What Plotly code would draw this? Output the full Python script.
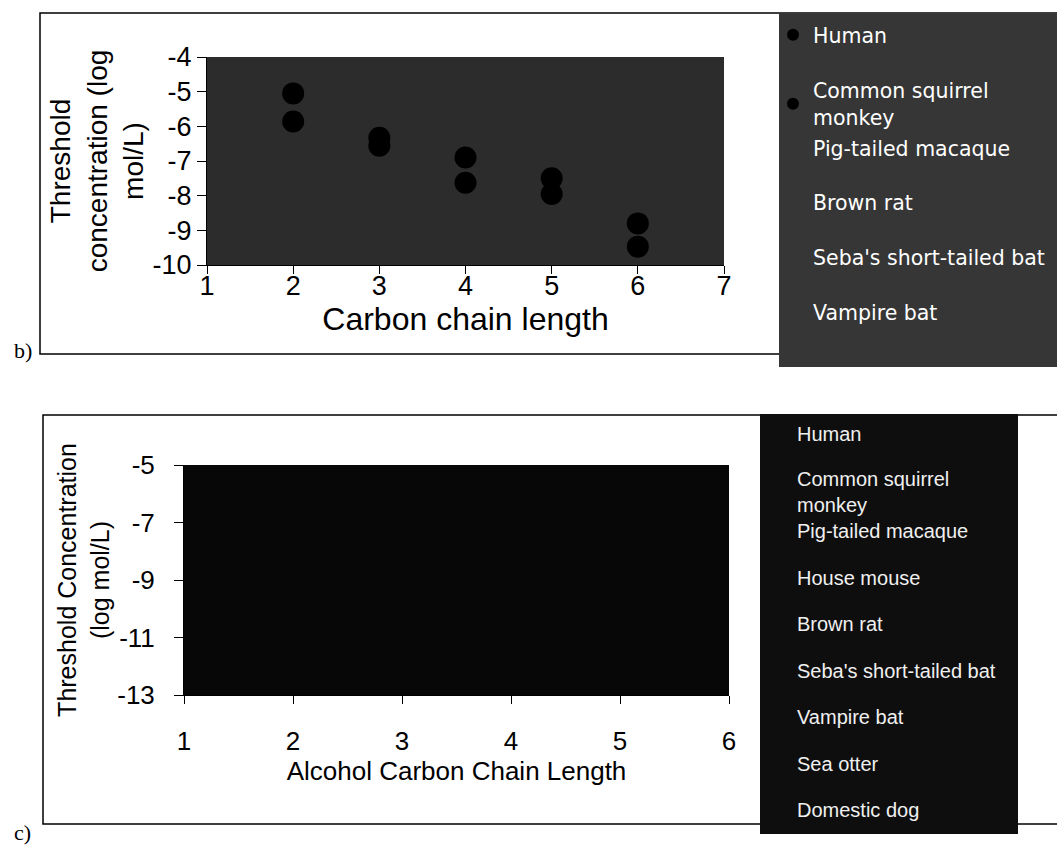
import plotly.graph_objects as go

W, H = 1057, 848
def px(x):
    return x / W
def py(y):
    return 1 - y / H

# ---------------- data ----------------
# panel b: odor threshold vs carbon chain length
species_b = ["Human", "Common squirrel<br>monkey", "Pig-tailed macaque",
             "Brown rat", "Seba's short-tailed bat", "Vampire bat"]
chain_human_b = [2, 3, 4, 5, 6]
thr_human_b = [-5.05, -6.33, -6.9, -7.5, -8.8]
chain_squirrel_b = [2, 3, 4, 5, 6]
thr_squirrel_b = [-5.86, -6.56, -7.63, -7.95, -9.47]
# species whose points are not visible in the scan: no values (None)
b_x = [chain_human_b, chain_squirrel_b, [None], [None], [None], [None]]
b_y = [thr_human_b, thr_squirrel_b, [None], [None], [None], [None]]

# panel c: alcohols (no visible points in the scan)
species_c = ["Human", "Common squirrel<br>monkey", "Pig-tailed macaque",
             "House mouse", "Brown rat", "Seba's short-tailed bat",
             "Vampire bat", "Sea otter", "Domestic dog"]
c_x = [[None] for _ in species_c]
c_y = [[None] for _ in species_c]

xticks_b = [1, 2, 3, 4, 5, 6, 7]
yticks_b = [-4, -5, -6, -7, -8, -9, -10]
xticks_c = [1, 2, 3, 4, 5, 6]
yticks_c = [-5, -7, -9, -11, -13]

# ---------------- styles ----------------
FONT = "Liberation Sans, Arial, sans-serif"
B_PLOT_BG = "#2c2c2c"
B_LEG_BG = "#363636"
C_PLOT_BG = "#070707"
C_LEG_BG = "#0e0e0e"

fig = go.Figure()

for i, name in enumerate(species_b):
    visible_marker = b_x[i][0] is not None
    fig.add_trace(go.Scatter(
        x=b_x[i], y=b_y[i], mode="markers", name=name, showlegend=True,
        marker=dict(size=22, color="#000000" if visible_marker else B_LEG_BG,
                    symbol="circle", line=dict(width=0)),
        xaxis="x", yaxis="y",
        legend="legend" if i < 2 else "legend2",
        legendgroup="b%d" % i,
    ))

for i, name in enumerate(species_c):
    fig.add_trace(go.Scatter(
        x=c_x[i], y=c_y[i], mode="markers", name=name, showlegend=True,
        marker=dict(size=12, color=C_LEG_BG),
        xaxis="x2", yaxis="y2",
        legend="legend3" if i < 2 else "legend4",
        legendgroup="c%d" % i,
    ))

axis_common = dict(showgrid=False, zeroline=False, showline=True,
                   linecolor="black", linewidth=1, ticks="outside",
                   tickcolor="black", tickwidth=1, tickmode="array")

shapes = [
    # panel b frame
    dict(type="rect", xref="paper", yref="paper", x0=px(40), x1=px(1070),
         y0=py(354), y1=py(13), line=dict(color="black", width=1.5),
         fillcolor="white", layer="below"),
    # panel b legend box
    dict(type="rect", xref="paper", yref="paper", x0=px(779), x1=px(1070),
         y0=py(367), y1=py(13), line=dict(width=0), fillcolor=B_LEG_BG,
         layer="below"),
    # panel b plot area
    dict(type="rect", xref="x domain", yref="y domain", x0=0, x1=1, y0=0, y1=1,
         line=dict(width=0), fillcolor=B_PLOT_BG, layer="below"),
    # panel c frame
    dict(type="rect", xref="paper", yref="paper", x0=px(43), x1=px(1070),
         y0=py(824), y1=py(415), line=dict(color="black", width=1.5),
         fillcolor="white", layer="below"),
    # panel c legend box
    dict(type="rect", xref="paper", yref="paper", x0=px(760), x1=px(1018),
         y0=py(834), y1=py(414), line=dict(width=0), fillcolor=C_LEG_BG,
         layer="below"),
    # panel c plot area
    dict(type="rect", xref="x2 domain", yref="y2 domain", x0=0, x1=1, y0=0, y1=1,
         line=dict(width=0), fillcolor=C_PLOT_BG, layer="below"),
]

leg_common = dict(bgcolor="rgba(0,0,0,0)", borderwidth=0, xanchor="left",
                  yanchor="top", itemsizing="constant", visible=True)
LEG_B_FONT = dict(family="DejaVu Sans, sans-serif", size=20.5, color="white")
LEG_C_FONT = dict(family=FONT, size=20, color="#f0f0f0")

fig.update_layout(
    width=W, height=H, margin=dict(l=0, r=0, t=0, b=0, autoexpand=False),
    showlegend=True,
    paper_bgcolor="white", plot_bgcolor="rgba(0,0,0,0)",
    font=dict(family=FONT, color="black"),
    xaxis=dict(domain=[px(207), px(724)], range=[1, 7],
               tickvals=xticks_b, ticktext=[str(v) for v in xticks_b],
               ticklen=8, anchor="y",
               tickfont=dict(size=27), ticklabelstandoff=-11,
               title=dict(text="Carbon chain length",
                          font=dict(size=32), standoff=0), **axis_common),
    yaxis=dict(domain=[py(265), py(57)], range=[-10, -4],
               tickvals=yticks_b, ticktext=[str(v) for v in yticks_b],
               ticklen=9, anchor="x",
               tickfont=dict(size=27), ticklabelstandoff=0,
               title=dict(text="Threshold<br>concentration (log<br>mol/L)",
                          font=dict(size=28), standoff=0), **axis_common),
    xaxis2=dict(domain=[px(184), px(729)], range=[1, 6],
                tickvals=xticks_c, ticktext=[str(v) for v in xticks_c],
                ticklen=8, anchor="y2",
                tickfont=dict(size=26), ticklabelstandoff=15,
                title=dict(text="Alcohol Carbon Chain Length",
                           font=dict(size=26), standoff=5), **axis_common),
    yaxis2=dict(domain=[py(695), py(465)], range=[-13, -5],
                tickvals=yticks_c, ticktext=[str(v) for v in yticks_c],
                ticklen=9, anchor="x2",
                tickfont=dict(size=26), ticklabelstandoff=14,
                title=dict(text="Threshold Concentration<br>(log mol/L)",
                           font=dict(size=25), standoff=0), **axis_common),
    legend=dict(x=px(773), y=py(15), tracegroupgap=26, font=LEG_B_FONT,
                **leg_common),
    legend2=dict(x=px(773), y=py(128), tracegroupgap=25, font=LEG_B_FONT,
                 **leg_common),
    legend3=dict(x=px(757), y=py(414), tracegroupgap=16, font=LEG_C_FONT,
                 **leg_common),
    legend4=dict(x=px(757), y=py(511), tracegroupgap=17.5, font=LEG_C_FONT,
                 **leg_common),
    shapes=shapes,
    annotations=[
        dict(text="b)", x=px(12), y=py(351), xref="paper", yref="paper",
             xanchor="left", yanchor="middle", showarrow=False,
             font=dict(family="Liberation Serif, serif", size=22, color="black")),
        dict(text="c)", x=px(12), y=py(832), xref="paper", yref="paper",
             xanchor="left", yanchor="middle", showarrow=False,
             font=dict(family="Liberation Serif, serif", size=22, color="black")),
    ],
)

fig.write_html("out.html", config={"displayModeBar": False},
               post_script="document.body.style.margin='0';"
                           "document.body.style.overflow='hidden';")
